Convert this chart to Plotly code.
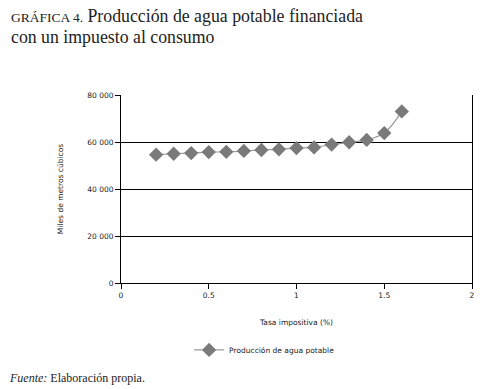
import plotly.graph_objects as go

tasa = [0.2, 0.3, 0.4, 0.5, 0.6, 0.7, 0.8, 0.9, 1.0, 1.1, 1.2, 1.3, 1.4, 1.5, 1.6]
produccion = [54600, 55000, 55300, 55700, 55800, 56200, 56600, 56900, 57400, 57700,
              58900, 59900, 60900, 63800, 73000]
y_ticks = [0, 20000, 40000, 60000, 80000]
y_tick_labels = ["0", "20 000", "40 000", "60 000", "80 000"]
x_ticks = [0, 0.5, 1, 1.5, 2]
x_tick_labels = ["0", "0.5", "1", "1.5", "2"]

fig = go.Figure()
fig.add_trace(go.Scatter(
    x=tasa, y=produccion, mode="lines+markers",
    name="Producción de agua potable",
    line=dict(color="#9a9a9a", width=1.2, shape="spline"),
    marker=dict(symbol="diamond", size=11, color="#7a7a7a"),
))

fig.update_layout(
    width=483, height=389,
    margin=dict(l=121, r=8, t=95, b=106),
    paper_bgcolor="white", plot_bgcolor="white",
    font=dict(family="DejaVu Sans", size=7.5, color="#222"),
    showlegend=True,
    legend=dict(orientation="h", x=0.194, xanchor="left", y=-0.356, yanchor="middle",
                font=dict(family="DejaVu Sans", size=7.5, color="#222")),
    xaxis=dict(range=[0, 2], tickvals=x_ticks, ticktext=x_tick_labels,
               showgrid=False, zeroline=False, showline=True, linecolor="black",
               linewidth=1, ticks="outside", ticklen=5, tickcolor="black",
               title=dict(text="Tasa impositiva (%)", standoff=20,
                          font=dict(family="DejaVu Sans", size=7.5, color="#222"))),
    yaxis=dict(range=[0, 80000], tickvals=y_ticks, ticktext=y_tick_labels,
               showgrid=True, gridcolor="black", gridwidth=1, zeroline=False,
               showline=True, mirror=True, linecolor="black", linewidth=1,
               ticks="outside", ticklen=5, tickcolor="black",
               title=dict(text="Miles de metros cúbicos", standoff=22,
                          font=dict(family="DejaVu Sans", size=7.5, color="#222"))),
)

fig.add_annotation(
    xref="paper", yref="paper", x=-113/354, y=1 + 79/188, xanchor="left", yanchor="middle",
    showarrow=False, align="left",
    text="<span style='font-size:13.5px'>GRÁFICA 4.</span> Producción de agua potable financiada",
    font=dict(family="Liberation Serif", size=17.8, color="#222"),
)
fig.add_annotation(
    xref="paper", yref="paper", x=-113/354, y=1 + 58/188, xanchor="left", yanchor="middle",
    showarrow=False, align="left",
    text="con un impuesto al consumo",
    font=dict(family="Liberation Serif", size=17.8, color="#222"),
)
fig.add_annotation(
    xref="paper", yref="paper", x=-115/354, y=-95/188, xanchor="left", yanchor="middle",
    showarrow=False, align="left",
    text="<i>Fuente:</i> Elaboración propia.",
    font=dict(family="Liberation Serif", size=12, color="#222"),
)

fig.write_html("out.html", config={"displayModeBar": False},
               post_script="document.body.style.margin='0px';")
